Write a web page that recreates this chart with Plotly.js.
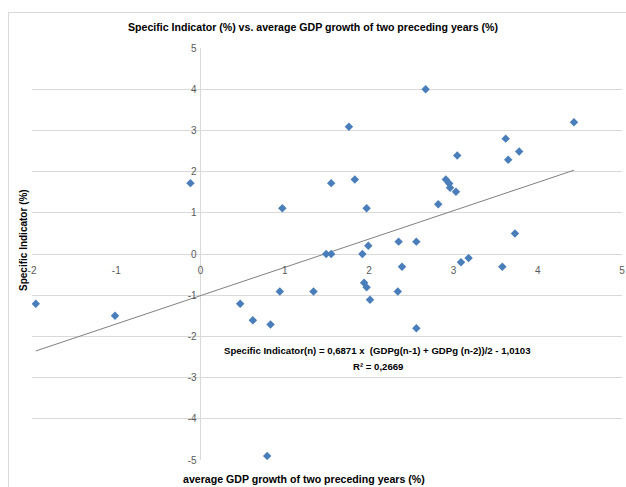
<!DOCTYPE html>
<html>
<head>
<meta charset="utf-8">
<script src="https://cdn.plot.ly/plotly-3.0.1.min.js"></script>
<style>
  html, body { margin: 0; padding: 0; background: #ffffff; }
  #frame { position: absolute; left: 8px; top: 12px; width: 640px; height: 490px; border: 1px solid #d9d9d9; box-sizing: border-box; pointer-events: none; }
  #chart { position: absolute; left: 0; top: 0; width: 626px; height: 487px; }
</style>
</head>
<body>
<div id="chart"></div>
<div id="frame"></div>
<script>
// Average GDP growth of two preceding years (%)
const gdpGrowth = [
  -1.955, -1.015, -0.12, 0.47, 0.62, 0.83, 0.94, 0.97, 1.34, 1.49,
  1.55, 1.55, 1.76, 1.83, 1.92, 1.94, 1.97, 1.97, 1.99, 2.01,
  2.35, 2.34, 2.39, 2.56, 2.56, 2.67, 2.82, 2.91, 2.95, 2.96,
  3.03, 3.045, 3.09, 3.18, 3.58, 3.62, 3.65, 3.73, 3.78, 4.43,
  0.79
];
// Specific Indicator (%)
const indicator = [
  -1.21, -1.50, 1.72, -1.21, -1.61, -1.71, -0.91, 1.11, -0.91, 0.0,
  0.0, 1.72, 3.09, 1.81, 0.0, -0.70, -0.81, 1.11, 0.20, -1.11,
  0.30, -0.91, -0.31, 0.30, -1.80, 4.0, 1.21, 1.81, 1.71, 1.61,
  1.51, 2.39, -0.20, -0.10, -0.31, 2.80, 2.29, 0.50, 2.49, 3.20,
  -4.9
];
// Linear trendline coefficients as printed on the chart
const trendSlope = 0.6871;
const trendIntercept = -1.0103;
const rSquared = "0,2669";

const xTicks = [-2, -1, 0, 1, 2, 3, 4, 5];
const yTicks = [-5, -4, -3, -2, -1, 0, 1, 2, 3, 4, 5];

const titleText = "Specific Indicator (%) vs. average GDP growth of two preceding years (%)";
const xTitleText = "average GDP growth of two preceding years (%)";
const yTitleText = "Specific Indicator (%)";
const equationText = "Specific Indicator(n) = 0,6871 x  (GDPg(n-1) + GDPg (n-2))/2 - 1,0103";

const xMin = Math.min(...gdpGrowth);
const xMax = Math.max(...gdpGrowth);
const trendX = [xMin, xMax];
const trendY = trendX.map(v => trendSlope * v + trendIntercept);

const fontFam = '"Liberation Sans", Arial, sans-serif';

const traces = [
  {
    x: trendX, y: trendY, type: 'scatter', mode: 'lines',
    line: { color: '#7f7f7f', width: 1 }, hoverinfo: 'skip', showlegend: false
  },
  {
    x: gdpGrowth, y: indicator, type: 'scatter', mode: 'markers',
    marker: { symbol: 'diamond', size: 6.5, color: '#4a7ebb' }, showlegend: false
  }
];

const layout = {
  width: 626, height: 487,
  margin: { l: 32, r: 4, t: 48, b: 27 },
  paper_bgcolor: 'rgba(0,0,0,0)',
  plot_bgcolor: 'rgba(0,0,0,0)',
  font: { family: fontFam, color: '#595959', size: 10 },
  title: {
    text: '<b>' + titleText + '</b>',
    font: { family: fontFam, size: 10.6, color: '#000000' },
    x: 0.5, xanchor: 'center', y: 1 - 27 / 487, yanchor: 'middle'
  },
  xaxis: {
    range: [-2, 5], tickvals: xTicks, ticktext: xTicks.map(String),
    showgrid: false, zeroline: true, zerolinecolor: '#d9d9d9', zerolinewidth: 1,
    showline: false, anchor: 'free', position: 0.5,
    ticks: 'outside', ticklen: 7, tickcolor: 'rgba(0,0,0,0)',
    tickfont: { family: fontFam, size: 10, color: '#595959' }
  },
  yaxis: {
    range: [-5, 5], tickvals: yTicks, ticktext: yTicks.map(String),
    showgrid: true, gridcolor: '#d9d9d9', gridwidth: 1,
    zeroline: false, showline: false, anchor: 'free', position: 2 / 7,
    ticks: 'outside', ticklen: 2, tickcolor: 'rgba(0,0,0,0)',
    tickfont: { family: fontFam, size: 10, color: '#595959' }
  },
  annotations: [
    {
      xref: 'paper', yref: 'paper', x: (304 - 32) / 590, y: (460 - 479) / 412,
      text: '<b>' + xTitleText + '</b>', showarrow: false,
      font: { family: fontFam, size: 10.6, color: '#000000' }, xanchor: 'center', yanchor: 'middle'
    },
    {
      xref: 'paper', yref: 'paper', x: (23 - 32) / 590, y: (460 - 240) / 412,
      text: '<b>' + yTitleText + '</b>', showarrow: false, textangle: -90,
      font: { family: fontFam, size: 10, color: '#000000' }, xanchor: 'center', yanchor: 'middle'
    },
    {
      xref: 'x', yref: 'y', x: 2.10, y: -2.35,
      text: '<b>' + equationText + '</b>', showarrow: false,
      font: { family: fontFam, size: 9.6, color: '#000000' }, xanchor: 'center', yanchor: 'middle'
    },
    {
      xref: 'x', yref: 'y', x: 2.10, y: -2.72,
      text: '<b>R² = ' + rSquared + '</b>', showarrow: false,
      font: { family: fontFam, size: 9.6, color: '#000000' }, xanchor: 'center', yanchor: 'middle'
    }
  ]
};

Plotly.newPlot('chart', traces, layout, { displayModeBar: false, staticPlot: true });
</script>
</body>
</html>
